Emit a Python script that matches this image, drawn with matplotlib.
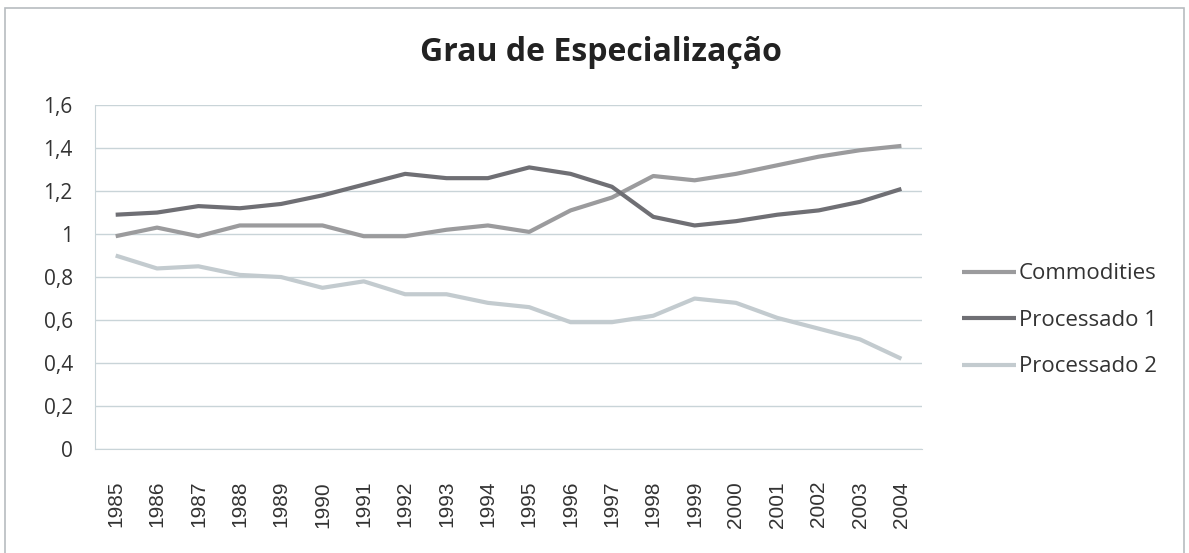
import matplotlib.pyplot as plt
from matplotlib.patches import Rectangle
from matplotlib.ticker import FuncFormatter

years = list(range(1985, 2005))
commodities = [0.99, 1.03, 0.99, 1.04, 1.04, 1.04, 0.99, 0.99, 1.02, 1.04,
               1.01, 1.11, 1.17, 1.27, 1.25, 1.28, 1.32, 1.36, 1.39, 1.41]
processado1 = [1.09, 1.10, 1.13, 1.12, 1.14, 1.18, 1.23, 1.28, 1.26, 1.26,
               1.31, 1.28, 1.22, 1.08, 1.04, 1.06, 1.09, 1.11, 1.15, 1.21]
processado2 = [0.90, 0.84, 0.85, 0.81, 0.80, 0.75, 0.78, 0.72, 0.72, 0.68,
               0.66, 0.59, 0.59, 0.62, 0.70, 0.68, 0.61, 0.56, 0.51, 0.42]
labels = ['Commodities', 'Processado 1', 'Processado 2']
colors = ['#9b9b9d', '#6f6f74', '#c3cbcf']

plt.rcParams['font.family'] = ['Open Sans', 'DejaVu Sans']

fig = plt.figure(figsize=(11.89, 5.53), dpi=100)
ax = fig.add_axes([0.0799, 0.188, 0.6956, 0.622])

# outer chart border
fig.patches.append(Rectangle((0.004, -0.01), 0.992, 0.996, transform=fig.transFigure,
                             fill=False, edgecolor='#b8bcc0', linewidth=1.2))

x = list(range(len(years)))
for vals, lab, col in zip([commodities, processado1, processado2], labels, colors):
    ax.plot(x, vals, color=col, linewidth=3.0, label=lab, solid_capstyle='butt')

ax.set_xlim(-0.5, len(years) - 0.5)
ax.set_ylim(0, 1.6)
ax.set_yticks([i * 0.2 for i in range(9)])
ax.yaxis.set_major_formatter(FuncFormatter(lambda v, p: ('%g' % round(v, 1)).replace('.', ',')))
ax.set_xticks(x)
ax.set_xticklabels([str(y) for y in years], rotation=90, fontsize=15,
                   family=['Liberation Sans'], color='#333333')
ax.tick_params(axis='y', length=0, labelsize=15, pad=16, labelcolor='#333333')
ax.tick_params(axis='x', length=0, pad=23)
ax.grid(axis='y', color='#c9d4d8', linewidth=1)
ax.set_axisbelow(True)
for s in ['top', 'right']:
    ax.spines[s].set_visible(False)
for s in ['left', 'bottom']:
    ax.spines[s].set_color('#c9d4d8')

fig.text(0.505, 0.905, 'Grau de Especialização', ha='center', va='center',
         fontsize=23, fontweight='bold', color='#222222')

fig.legend(loc='upper left', bbox_to_anchor=(0.7925, 0.56), frameon=False,
           fontsize=16, handlelength=2.4, handletextpad=0.15, labelspacing=1.15,
           labelcolor='#333333')

fig.savefig('out.png', dpi=100)
